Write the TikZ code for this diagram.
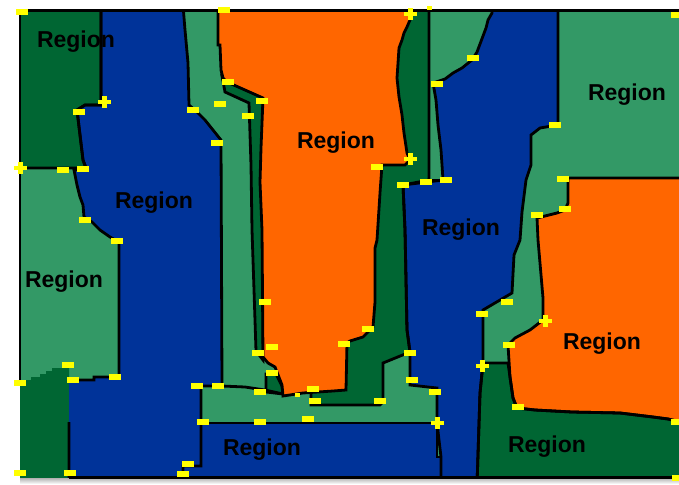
\documentclass[tikz,border=0pt]{standalone}
\usepackage{fontspec}
\setmainfont{Liberation Sans}
\definecolor{dg}{HTML}{006633}
\definecolor{mg}{HTML}{339966}
\definecolor{bl}{HTML}{003399}
\definecolor{og}{HTML}{FF6600}
\definecolor{yl}{HTML}{FFFF00}
\newcommand\ymk[2]{\fill[yl] (#1-6,#2-3) rectangle (#1+6,#2+3);}
\newcommand\ysm[2]{\fill[yl] (#1-2.5,#2-2) rectangle (#1+2.5,#2+2);}
\newcommand\ycr[2]{\fill[yl] (#1-6.5,#2-2) rectangle (#1+6.5,#2+2); \fill[yl] (#1-2.5,#2-6) rectangle (#1+2.5,#2+6);}
\def\pTL{(15,5) -- (101,5) -- (101,105) -- (85,105) -- (77,110) -- (80,135) -- (83,160) -- (86,168) -- (15,168) -- cycle}
\def\pLLfill{(15,380) -- (31,380) -- (31,377) -- (40,377) -- (40,374) -- (46,374) -- (46,371) -- (52,371) -- (52,368) -- (69,368) -- (69,485) -- (15,485) -- cycle}
\def\pLB{(69,422) -- (69,485) -- (183,485) -- (183,466) -- (201,466) -- (201,386) -- (222,386) -- (221,140) -- (213,130) -- (205,120) -- (197,112) -- (189,105) -- (188,63) -- (185,30) -- (183,5) -- (101,5) -- (101,105) -- (85,105) -- (77,110) -- (80,135) -- (83,160) -- (86,168) -- (74,170) -- (77,185) -- (80,197) -- (83,205) -- (84,217) -- (92,222) -- (100,230) -- (110,237) -- (119,242) -- (119,377) -- (94,377) -- (94,380) -- (69,380)}
\def\pSL{(222,76) -- (263,95) -- (263,360) -- (256,351) -- (254,290) -- (252,230) -- (251,165) -- (249,103) -- (225,92) -- cycle}
\def\pSS{(266,374) -- (276,374) -- (282,386) -- (283,394) -- (266,392) -- cycle}
\def\pSR{(395,5) -- (429,5) -- (429,180) -- (403,185) -- (405,230) -- (407,330) -- (410,352) -- (383,363) -- (383,402) -- (380,405) -- (311,405) -- (311,390) -- (340,390) -- (340,340) -- (370,328) -- (370,165) -- (395,160) -- cycle}
\def\pOC{(218,5) -- (410,5) -- (410,20) -- (407,27) -- (404,33) -- (402,40) -- (399,48) -- (397,78) -- (399,97) -- (402,115) -- (404,133) -- (407,153) -- (410,160) -- (405,165) -- (382,165) -- (380,193) -- (377,240) -- (375,248) -- (375,302) -- (373,327) -- (363,337) -- (350,341) -- (347,343) -- (346,390) -- (333,391) -- (303,393) -- (283,396) -- (282,385) -- (275,367) -- (268,363) -- (263,357) -- (262,230) -- (260,182) -- (261,148) -- (263,98) -- (227,82) -- (223,78) -- (221,70) -- (220,45) -- (218,45) -- cycle}
\def\pBR{(483,363) -- (508,363) -- (510,377) -- (513,398) -- (517,408) -- (535,410) -- (572,412) -- (620,413) -- (653,417) -- (668,419) -- (685,423) -- (685,485) -- (477,485) -- (480,393) -- cycle}
\def\pRB{(492,5) -- (558,5) -- (558,125) -- (540,128) -- (531,135) -- (531,165) -- (526,180) -- (522,212) -- (520,240) -- (514,255) -- (512,293) -- (483,310) -- (483,363) -- (480,393) -- (477,485) -- (441,485) -- (441,457) -- (437,423) -- (437,388) -- (410,385) -- (410,352) -- (407,330) -- (405,230) -- (403,185) -- (443,180) -- (441,150) -- (438,125) -- (436,100) -- (433,83) -- (445,79) -- (453,73) -- (462,68) -- (472,60) -- (477,52) -- (480,44) -- (483,36) -- (486,28) -- (488,20) -- (492,13) -- cycle}
\def\pRO{(568,178) -- (685,178) -- (685,423) -- (668,419) -- (653,417) -- (620,413) -- (572,412) -- (535,410) -- (517,408) -- (513,398) -- (510,377) -- (508,345) -- (515,338) -- (530,330) -- (543,320) -- (543,298) -- (538,240) -- (537,218) -- (545,216) -- (557,213) -- (565,210) -- (568,203) -- cycle}
\def\pLO{(201,423) -- (437,423) -- (437,457) -- (441,457) -- (441,485) -- (183,485) -- (183,466) -- (201,466) -- cycle}
\begin{document}
\begin{tikzpicture}[x=1pt,y=-1pt,
  bd/.style={draw=black,line width=2.8pt,line join=miter},
  lbl/.style={font=\fontsize{23}{23}\selectfont\bfseries,text=black,inner sep=0pt,anchor=base}]
\useasboundingbox (0,0) rectangle (679,484);
\shade[top color=gray!60,bottom color=white] (20,478) rectangle (679,484);
\begin{scope}
\clip (20,11) rectangle (679,477);
\fill[mg] (20,11) rectangle (679,477);
% fills
\fill[dg] \pTL;
\fill[dg] \pLLfill;
\fill[bl] \pLB -- cycle;
\fill[dg] \pSL;
\fill[dg] \pSS;
\fill[dg] \pSR;
\fill[dg] \pBR;
\fill[bl] \pRB;
\fill[og] \pRO;
\fill[bl] \pLO;
% borders of the strips that the centre orange overlaps
\draw[bd] \pSL;
\draw[bd] \pSS;
\draw[bd] \pSR;
% centre orange
\fill[og] \pOC;
% other borders
\draw[bd] \pTL;
\draw[bd] \pLB;
\draw[bd] \pOC;
\draw[bd] (222,386) -- (245,387) -- (265,390) -- (283,394);
\draw[bd] \pBR;
\draw[bd] \pRB;
\draw[bd] \pRO;
\draw[bd] \pLO;
\draw[bd] (429,5) -- (429,180) -- (443,180);
\end{scope}
% frame
\draw[line width=3pt] (19,11) -- (679,11);
\draw[line width=2.8pt] (20,11) -- (20,382);
\draw[line width=3pt] (69,477) -- (679,477);
% labels
\node[lbl] (l1) at (76,48) {Region};
\node[lbl] (l2) at (154,208) {Region};
\node[lbl] (l3) at (64,287) {Region};
\node[lbl] (l4) at (336,148) {Region};
\node[lbl] (l5) at (461,235) {Region};
\node[lbl] (l6) at (627,100) {Region};
\node[lbl] (l7) at (602,349) {Region};
\node[lbl] (l8) at (262,455) {Region};
\node[lbl] (l9) at (547,452) {Region};
% markers
\ymk{22}{12} \ymk{224}{10} \ycr{104}{102} \ymk{79}{112} \ymk{193}{110} \ymk{220}{104}
\ymk{228}{82} \ymk{262}{101} \ymk{248}{116} \ymk{217}{143} \ycr{20}{168} \ymk{63}{170}
\ymk{83}{169} \ymk{85}{220} \ymk{117}{241}
\ycr{410}{14} \ysm{429}{8} \ymk{473}{58} \ymk{437}{84} \ymk{555}{125} \ycr{410}{159}
\ymk{377}{167} \ymk{403}{185} \ymk{426}{182} \ymk{446}{180} \ymk{563}{179} \ymk{677}{15}
\ymk{565}{209} \ymk{537}{215}
\ymk{68}{365} \ymk{73}{380} \ymk{115}{377} \ymk{20}{383} \ymk{197}{386} \ymk{218}{386}
\ymk{203}{422} \ymk{260}{392} \ymk{260}{422} \ymk{308}{419} \ymk{272}{373} \ymk{258}{353}
\ymk{272}{347} \ymk{265}{302} \ymk{313}{389} \ysm{297}{395} \ymk{315}{401} \ymk{188}{464}
\ymk{183}{474} \ymk{20}{473} \ymk{70}{473}
\ymk{368}{329} \ymk{344}{344} \ymk{410}{353} \ymk{412}{380} \ymk{380}{401} \ymk{435}{392}
\ycr{437}{423}
\ymk{507}{302} \ymk{482}{314} \ycr{545}{321} \ymk{509}{345} \ycr{482}{366} \ymk{518}{407}
\ymk{677}{422} \ymk{678}{478}
\end{tikzpicture}
\end{document}
